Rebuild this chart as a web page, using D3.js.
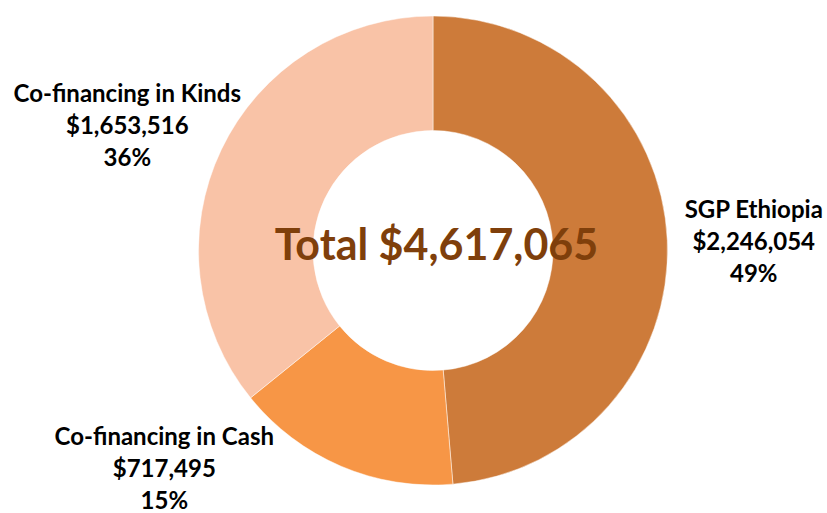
<!DOCTYPE html>
<html>
<head>
<meta charset="utf-8">
<script src="https://cdn.jsdelivr.net/npm/d3@7"></script>
<style>
  body { margin: 0; background: #fff; }
  svg text { font-family: Lato, "Open Sans", sans-serif; font-weight: bold; }
</style>
</head>
<body>
<div class="chartDiv"></div>
<script>
// data
var categories = ["SGP Ethiopia", "Co-financing in Cash", "Co-financing in Kinds"];
var amounts = [2246054, 717495, 1653516];
var sliceColors = ["#CD7B3A", "#F79646", "#F9C3A7"];

var width = 827, height = 513;
var cx = 433, cy = 250.5,
    outerR = 234.5, innerR = 120;

// where each label box sits relative to the mid-angle point at labelR
var labelR = 300;
var labelNudge = {
  "SGP Ethiopia": [21, 3],
  "Co-financing in Cash": [-151, -58.5],
  "Co-financing in Kinds": [-35, 4]
};

var fmt = d3.format("$,");
var total = d3.sum(amounts);

// whole percents that still add up to 100 (largest remainder)
var raw = amounts.map(function(v) { return v / total * 100; });
var pct = raw.map(Math.floor);
var left = 100 - d3.sum(pct);
d3.range(raw.length)
  .sort(function(a, b) { return (raw[b] - pct[b]) - (raw[a] - pct[a]); })
  .slice(0, left)
  .forEach(function(i) { pct[i] += 1; });

var rows = categories.map(function(c, i) {
  return {name: c, value: amounts[i], color: sliceColors[i], pct: pct[i]};
});

var svg = d3.select('div.chartDiv').append('svg')
  .attr('width', width).attr('height', height);

var g = svg.append('g').attr('transform', 'translate(' + cx + ',' + cy + ')');

var pie = d3.pie().sort(null).value(function(d) { return d.value; });
var arc = d3.arc().innerRadius(innerR).outerRadius(outerR);
var labelArc = d3.arc().innerRadius(labelR).outerRadius(labelR);

var slices = pie(rows);

g.selectAll('path.slice').data(slices).enter().append('path')
  .attr('class', 'slice')
  .attr('d', arc)
  .attr('fill', function(d) { return d.data.color; })
  .attr('stroke', '#fff')
  .attr('stroke-width', 0.8)
  .attr('stroke-opacity', 0.6);

var labels = g.selectAll('text.lbl').data(slices).enter().append('text')
  .attr('class', 'lbl')
  .attr('text-anchor', 'middle')
  .attr('font-size', 24)
  .attr('fill', '#000')
  .attr('transform', function(d) {
    var c = labelArc.centroid(d), n = labelNudge[d.data.name];
    return 'translate(' + (c[0] + n[0]) + ',' + (c[1] + n[1]) + ')';
  });

labels.each(function(d) {
  var t = d3.select(this);
  var lines = [d.data.name, fmt(d.data.value), d.data.pct + '%'];
  lines.forEach(function(s, i) {
    t.append('tspan').attr('x', 0).attr('y', (i - 1) * 32 + 9).text(s);
  });
});

g.append('text')
  .attr('text-anchor', 'middle')
  .attr('x', 3.5).attr('y', 9.5)
  .attr('font-size', 43)
  .attr('fill', '#7F3F0B')
  .text('Total ' + fmt(total));
</script>
</body>
</html>
